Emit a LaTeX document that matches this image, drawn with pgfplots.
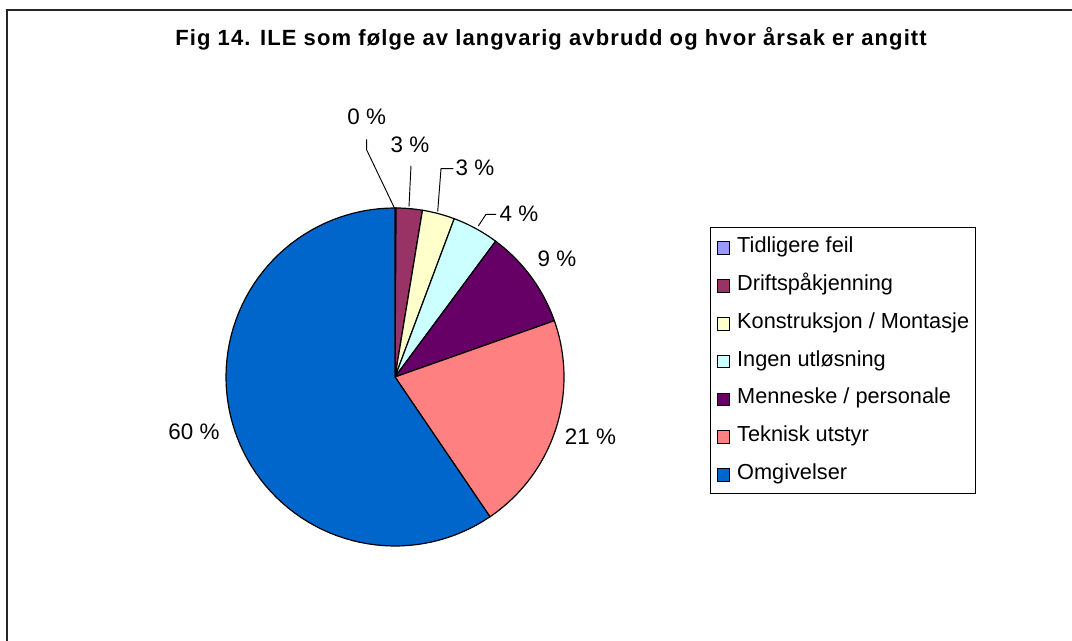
\documentclass[border=0pt]{standalone}
\usepackage{fontspec}
\setmainfont{Liberation Sans}
\newfontfamily\titlefont[LetterSpace=5]{Liberation Sans}
\usepackage{pgfplots}
\pgfplotsset{compat=1.18}
\definecolor{cTid}{HTML}{9999FF}
\definecolor{cDri}{HTML}{993366}
\definecolor{cKon}{HTML}{FFFFCC}
\definecolor{cIng}{HTML}{CCFFFF}
\definecolor{cMen}{HTML}{660066}
\definecolor{cTek}{HTML}{FF8080}
\definecolor{cOmg}{HTML}{0066CC}
% shares in percent (clockwise from 12 o'clock)
\def\pA{0.1}  % Tidligere feil
\def\pB{2.5}  % Driftspaakjenning
\def\pC{3.1}  % Konstruksjon / Montasje
\def\pD{4.45} % Ingen utloesning
\def\pE{9.45} % Menneske / personale
\def\pF{20.9} % Teknisk utstyr
\def\pG{59.5} % Omgivelser
\pgfmathsetmacro\aA{90}
\pgfmathsetmacro\aB{\aA-3.6*\pA}
\pgfmathsetmacro\aC{\aB-3.6*\pB}
\pgfmathsetmacro\aD{\aC-3.6*\pC}
\pgfmathsetmacro\aE{\aD-3.6*\pD}
\pgfmathsetmacro\aF{\aE-3.6*\pE}
\pgfmathsetmacro\aG{\aF-3.6*\pF}
\pgfmathsetmacro\aH{\aG-3.6*\pG}
\newcommand{\slice}[3]{%
  \addplot[fill=#1, draw=black, line width=0.9pt, domain=#3:#2, samples=80, variable=\t]
    ({395+169*cos(\t)},{264+169*sin(\t)}) -- (axis cs:395,264) -- cycle;}
\begin{document}
\begin{tikzpicture}
\useasboundingbox (0,0) rectangle (804pt,480.75pt);
\begin{axis}[at={(0,0)}, anchor=south west,
  width=804pt, height=480.75pt, scale only axis,
  xmin=0, xmax=1072, ymin=0, ymax=641,
  hide axis, clip=false,
  legend cell align=left,
  legend image code/.code={\draw[#1, draw=black, line width=0.5pt] (0pt,-5.5pt) rectangle (9.5pt,4pt);},
  legend style={at={(axis cs:710,413.7)}, anchor=north west, draw=black, line width=0.6pt,
    font=\fontsize{16.3}{19}\selectfont, row sep=12.85pt, column sep=5.5pt,
    inner xsep=4.6pt, inner ysep=6.75pt,
    nodes={inner sep=0pt, text height=12pt, text depth=3.5pt}},
]
\slice{cTid}{\aA}{\aB}
\slice{cDri}{\aB}{\aC}
\slice{cKon}{\aC}{\aD}
\slice{cIng}{\aD}{\aE}
\slice{cMen}{\aE}{\aF}
\slice{cTek}{\aF}{\aG}
\slice{cOmg}{\aG}{\aH}
\legend{Tidligere feil, Driftspåkjenning, Konstruksjon / Montasje, Ingen utløsning, Menneske / personale, Teknisk utstyr, Omgivelser}
% frame
\draw[line width=1.5pt, black!85] (axis cs:7,-5) -- (axis cs:7,631) -- (axis cs:1075,631);
% title
\node[font=\titlefont\fontsize{16.5}{19}\selectfont\bfseries, inner sep=0pt] at (axis cs:551,602) {Fig 14. ILE som følge av langvarig avbrudd og hvor årsak er angitt};
% leader lines
\draw[line width=0.7pt] (axis cs:366.7,501.7) -- (axis cs:366.7,491) -- (axis cs:394.3,433.3);
\draw[line width=0.7pt] (axis cs:411,475.3) -- (axis cs:409,434.3);
\draw[line width=0.7pt] (axis cs:453.3,472.3) -- (axis cs:441,472.3) -- (axis cs:437.7,429.3);
\draw[line width=0.7pt] (axis cs:496,426.7) -- (axis cs:486,426.7) -- (axis cs:478.3,415);
% data labels
\begin{scope}[every node/.style={font=\fontsize{16.8}{19}\selectfont, inner sep=0pt}]
\node at (axis cs:366.7,524) {0 \%};
\node at (axis cs:410,496.3) {3 \%};
\node at (axis cs:475,473) {3 \%};
\node at (axis cs:519,427) {4 \%};
\node at (axis cs:557,382) {9 \%};
\node at (axis cs:590.5,204) {21 \%};
\node at (axis cs:194,209) {60 \%};
\end{scope}
\end{axis}
\end{tikzpicture}
\end{document}
